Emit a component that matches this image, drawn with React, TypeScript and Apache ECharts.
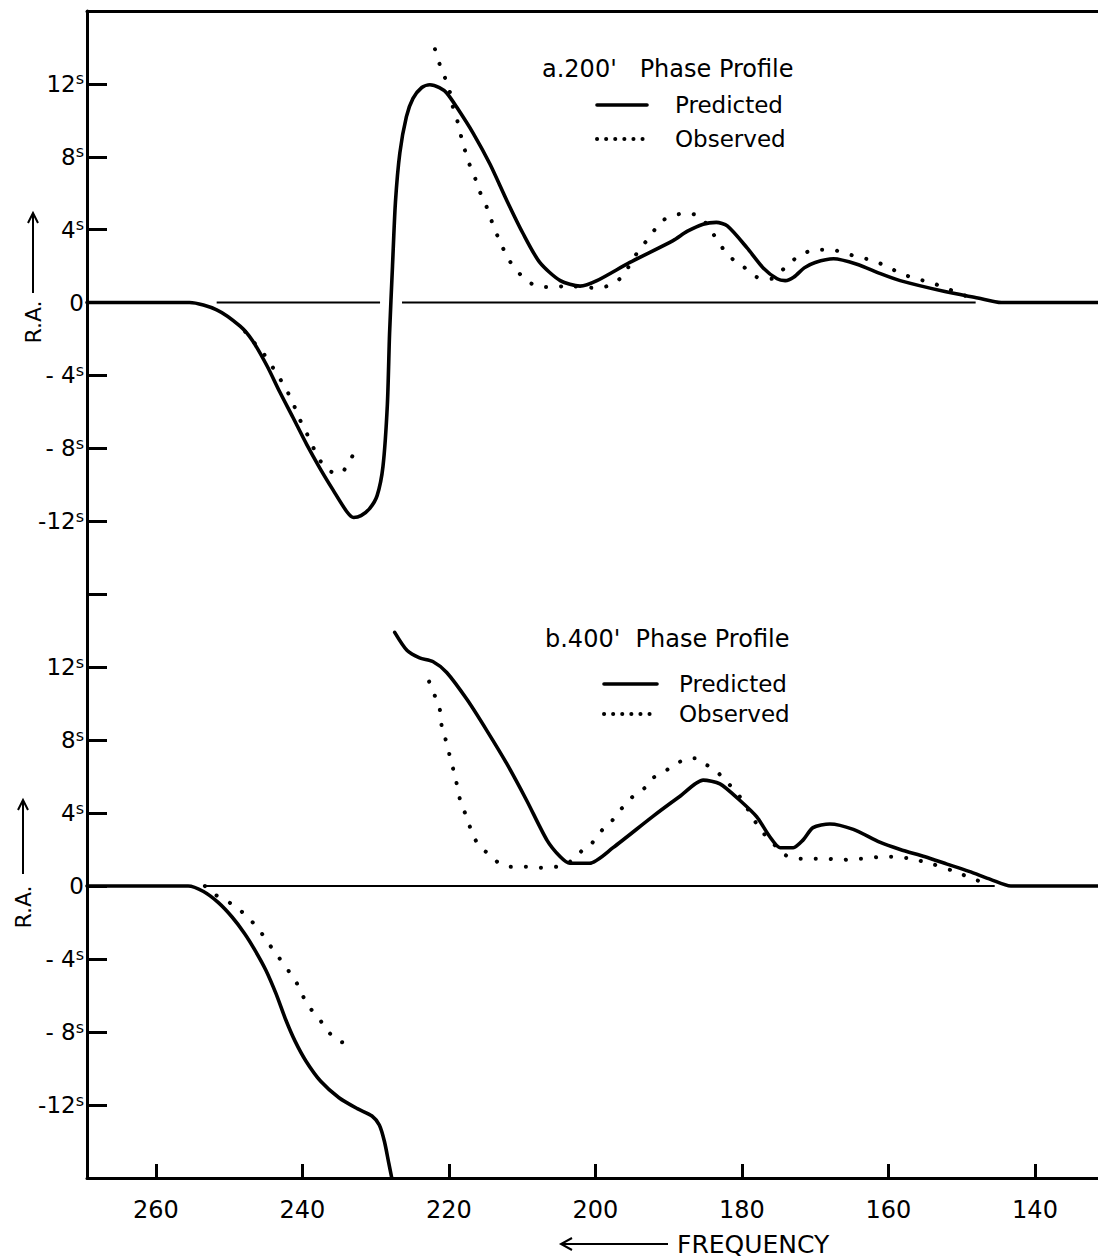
import React, { useEffect, useRef } from "react";
import * as echarts from "echarts";

const FONT = "DejaVu Sans";

const freqTicks = [260, 240, 220, 200, 180, 160, 140];
const freqMin = 131.4;
const freqMax = 269.4;
const raMin = -16;
const raMax = 16;

// a. 200' phase profile
const topPredicted: (number[] | null)[] = [
  [269.4, 0], [255.4, 0], [251.7, -0.4], [248.5, -1.3], [246.8, -2.1], [244.8, -3.5],
  [243.1, -4.9], [241.3, -6.3], [239.4, -7.8], [237.6, -9.1], [235.8, -10.3],
  [233.9, -11.5], [233.0, -11.8], [232.0, -11.7], [230.8, -11.3], [229.8, -10.6],
  [229.0, -9.0], [228.4, -5.6], [228.1, -1.7], [227.7, 2.0], [227.3, 5.5], [226.7, 8.2],
  [225.8, 10.2], [224.9, 11.2], [223.7, 11.8], [222.6, 11.95], [221.3, 11.8], [220.3, 11.5],
  [218.9, 10.7], [216.7, 9.3], [214.4, 7.6], [212.1, 5.6], [209.9, 3.8], [207.6, 2.2],
  [204.8, 1.2], [202.1, 0.9], [199.8, 1.2], [195.3, 2.2], [189.4, 3.4],
  [187.5, 3.9], [185.3, 4.3], [183.5, 4.4], [182.0, 4.2], [179.3, 3.0], [177.1, 1.9],
  [175.2, 1.3], [174.1, 1.2], [172.9, 1.4], [171.5, 1.9], [170.0, 2.2], [167.5, 2.4],
  [164.3, 2.1], [161.2, 1.6], [158.4, 1.2], [152.3, 0.6], [147.8, 0.25], [144.6, 0], [131.4, 0],
];
const topObserved: (number[] | null)[] = [
  [247.8, -1.6], [246.8, -2.1], [245.3, -2.8], [243.2, -4.1], [242.3, -4.7],
  [241.3, -5.5], [240.5, -6.3], [239.5, -7.1], [238.7, -7.8], [237.7, -8.6],
  [236.5, -9.2], [234.9, -9.4], [233.7, -8.8], [233.0, -8.3],
  null,
  [221.9, 13.9], [221.2, 13.0], [220.5, 12.3], [219.9, 11.6], [219.5, 10.8],
  [218.8, 9.9], [218.2, 8.9], [217.3, 7.7], [216.4, 6.8], [215.8, 6.1],
  [214.8, 5.2], [214.1, 4.4], [213.2, 3.5], [211.9, 2.4], [211.0, 1.9],
  [209.9, 1.4], [208.0, 0.9], [205.9, 0.85], [203.9, 0.9], [199.9, 0.8],
  [197.7, 1.0], [196.2, 1.5], [195.0, 2.3], [194.0, 2.9], [193.0, 3.4], [191.9, 4.0],
  [190.8, 4.5], [189.8, 4.7], [187.8, 4.9], [185.7, 4.7], [184.0, 3.8],
  [181.9, 2.6], [179.9, 2.0], [178.0, 1.4], [176.0, 1.3], [173.7, 2.1],
  [172.0, 2.6], [169.9, 2.9], [167.9, 2.9], [165.9, 2.7], [164.2, 2.5],
  [162.1, 2.3], [160.1, 1.95], [158.3, 1.6], [156.2, 1.3], [154.2, 1.1],
  [152.3, 0.8], [150.2, 0.5], [148.2, 0.1],
];
const topBaseline: (number[] | null)[] = [
  [251.7, 0], [229.4, 0], null, [226.4, 0], [148.1, 0],
];

// b. 400' phase profile
const bottomPredicted: (number[] | null)[] = [
  [269.4, 0], [255.6, 0], [253.5, -0.3], [251.5, -0.9], [249.6, -1.7],
  [247.9, -2.6], [246.5, -3.5], [245.0, -4.6], [243.6, -5.9], [242.3, -7.3],
  [241.0, -8.5], [239.5, -9.6], [237.5, -10.7], [235.0, -11.6], [232.5, -12.2],
  [230.5, -12.6], [229.5, -13.1], [228.8, -14.0], [228.2, -15.2], [227.8, -16],
  null,
  [227.4, 13.9], [225.7, 12.9], [224.0, 12.5], [222.2, 12.3], [220.3, 11.7],
  [217.5, 10.2], [214.8, 8.5], [212.1, 6.7], [209.4, 4.7], [206.6, 2.5],
  [204.8, 1.6], [203.5, 1.25], [200.8, 1.25], [197.6, 2.1], [192.2, 3.8],
  [188.5, 4.9], [185.3, 5.8], [183.0, 5.6], [180.3, 4.7], [178.0, 3.8],
  [176.2, 2.7], [174.8, 2.1], [173.0, 2.1], [171.7, 2.5], [170.3, 3.2],
  [168.0, 3.4], [164.8, 3.1], [161.2, 2.4], [158.4, 2.0], [155.0, 1.6],
  [152.0, 1.2], [149.0, 0.8], [146.0, 0.35], [143.3, 0], [131.4, 0],
];
const bottomObserved: (number[] | null)[] = [
  [253.3, 0], [252.2, -0.4], [250.9, -0.7], [249.6, -1.0], [248.3, -1.4],
  [247.0, -1.9], [245.9, -2.4], [244.7, -3.1], [243.6, -3.7], [241.8, -4.7],
  [240.8, -5.3], [240.2, -5.8], [239.3, -6.5], [238.1, -7.1], [237.1, -7.6],
  [236.2, -8.1], [235.1, -8.5], [233.7, -8.6],
  null,
  [222.7, 11.2], [221.9, 10.4], [221.2, 9.6], [221.0, 8.8], [220.5, 8.1],
  [220.1, 7.5], [219.7, 6.8], [219.2, 6.1], [218.4, 4.6], [217.7, 3.9],
  [216.9, 3.0], [215.9, 2.2], [214.7, 1.8], [212.8, 1.15], [211.3, 1.05],
  [209.2, 1.05], [207.2, 1.0], [204.8, 1.1], [202.8, 1.5], [201.7, 2.0],
  [200.8, 2.2], [199.8, 2.7], [199.0, 3.1], [198.0, 3.4], [197.1, 4.0],
  [196.0, 4.4], [194.9, 4.9], [193.2, 5.4], [192.2, 5.9], [190.9, 6.2],
  [189.7, 6.5], [188.5, 6.8], [187.5, 7.0], [186.4, 7.0], [185.3, 6.7],
  [184.1, 6.5], [183.0, 6.1], [180.3, 4.9], [178.6, 3.8], [177.5, 3.1],
  [175.9, 2.4], [174.1, 1.7], [172.1, 1.5], [170.3, 1.5], [168.4, 1.5],
  [166.6, 1.4], [164.8, 1.5], [162.9, 1.5], [161.2, 1.6], [159.4, 1.6],
  [157.0, 1.5], [154.0, 1.2], [151.0, 0.8], [148.5, 0.4], [146.0, 0.05],
];
const bottomBaseline: (number[] | null)[] = [[253.3, 0], [145.5, 0]];

const raLabel = (v: number) => {
  if (v === 0) return "{n|0}";
  if (Math.abs(v) >= 16) return "";
  const a = Math.abs(v);
  const sign = v < 0 ? (a < 10 ? "- " : "-") : "";
  return `{n|${sign}${a}}{s|s}`;
};

const BLACK = "#000";

const predictedStyle = { color: BLACK, width: 3.6, type: "solid" as const, cap: "round" as const };
const observedStyle = { color: BLACK, width: 4, type: [0.1, 15], cap: "round" as const };
const baselineStyle = { color: BLACK, width: 2.2, type: "solid" as const };

function makeYAxis(gridIndex: number) {
  return {
    type: "value",
    gridIndex,
    min: raMin,
    max: raMax,
    interval: 4,
    axisLine: { show: true, onZero: false, lineStyle: { color: BLACK, width: 3 } },
    axisTick: { show: true, inside: true, length: 20, lineStyle: { color: BLACK, width: 3 } },
    splitLine: { show: false },
    axisLabel: {
      margin: 3,
      formatter: raLabel,
      rich: {
        n: { fontSize: 23, fontFamily: FONT, color: BLACK, lineHeight: 26 },
        s: { fontSize: 16, fontFamily: FONT, color: BLACK, lineHeight: 16, verticalAlign: "top" },
      },
    },
  };
}

function makeLegend(left: number, top: number, itemWidth: number, itemGap: number, textGap: number) {
  return {
    orient: "vertical",
    left,
    top,
    padding: 0,
    itemWidth,
    itemHeight: 14,
    itemGap,
    selectedMode: false,
    itemStyle: { opacity: 0, color: "transparent", borderWidth: 0 },
    textStyle: {
      fontSize: 23,
      fontFamily: FONT,
      color: BLACK,
      lineHeight: 24,
      padding: [0, 0, 0, textGap],
    },
    data: [
      { name: "Predicted", lineStyle: { width: 3.6, color: BLACK } },
      { name: "Observed", lineStyle: { type: [0.1, 9], width: 4, color: BLACK, cap: "round" } },
    ],
  };
}

export default function App() {
  const ref = useRef<HTMLDivElement>(null);
  useEffect(() => {
    if (!ref.current) return;
    const chart = echarts.init(ref.current, null, { renderer: "svg" });
    const lineSeries = (name: string, idx: number, data: (number[] | null)[], lineStyle: any, smooth: number) => ({
      name,
      type: "line",
      xAxisIndex: idx,
      yAxisIndex: idx,
      data,
      symbol: "none",
      smooth,
      color: BLACK,
      itemStyle: { color: BLACK },
      lineStyle,
      connectNulls: false,
    });
    const option: any = {
      animation: false,
      backgroundColor: "#fff",
      color: [BLACK],
      textStyle: { fontFamily: FONT, color: BLACK },
      title: [
        {
          text: "a.200'   Phase Profile",
          left: 542,
          top: 57,
          padding: 0,
          textStyle: { fontSize: 24, fontWeight: "normal", fontFamily: FONT, color: BLACK },
        },
        {
          text: "b.400'  Phase Profile",
          left: 545,
          top: 627,
          padding: 0,
          textStyle: { fontSize: 24, fontWeight: "normal", fontFamily: FONT, color: BLACK },
        },
      ],
      legend: [makeLegend(595, 93, 50, 10, 23), makeLegend(602, 672, 53, 6, 17)],
      grid: [
        { left: 87, right: 0, top: 11, height: 583 },
        { left: 87, right: 0, top: 594, height: 584 },
      ],
      xAxis: [
        {
          type: "value",
          gridIndex: 0,
          position: "top",
          inverse: true,
          min: freqMin,
          max: freqMax,
          axisLine: { show: true, onZero: false, lineStyle: { color: BLACK, width: 3 } },
          axisTick: { show: false },
          axisLabel: { show: false },
          splitLine: { show: false },
        },
        {
          type: "value",
          gridIndex: 1,
          position: "bottom",
          inverse: true,
          min: freqMin,
          max: freqMax,
          axisLine: { show: true, onZero: false, lineStyle: { color: BLACK, width: 3 } },
          axisTick: {
            show: true,
            inside: true,
            length: 14,
            customValues: freqTicks,
            lineStyle: { color: BLACK, width: 3 },
          },
          axisLabel: {
            show: true,
            margin: 20,
            fontSize: 24,
            fontFamily: FONT,
            color: BLACK,
            customValues: freqTicks,
          },
          splitLine: { show: false },
        },
      ],
      yAxis: [makeYAxis(0), makeYAxis(1)],
      series: [
        lineSeries("Baseline200", 0, topBaseline, baselineStyle, 0),
        lineSeries("Predicted", 0, topPredicted, predictedStyle, 0.25),
        lineSeries("Observed", 0, topObserved, observedStyle, 0.3),
        lineSeries("Baseline400", 1, bottomBaseline, baselineStyle, 0),
        lineSeries("Predicted", 1, bottomPredicted, predictedStyle, 0.25),
        lineSeries("Observed", 1, bottomObserved, observedStyle, 0.3),
      ],
      graphic: [
        {
          type: "text",
          x: 33,
          y: 322,
          rotation: Math.PI / 2,
          style: { text: "R.A.", x: 0, y: 0, align: "center", verticalAlign: "middle", font: `22px "${FONT}"`, fill: BLACK },
        },
        { type: "line", shape: { x1: 33, y1: 293, x2: 33, y2: 214 }, style: { stroke: BLACK, lineWidth: 2 } },
        { type: "polyline", shape: { points: [[28, 223], [33, 213], [38, 223]] }, style: { stroke: BLACK, lineWidth: 2, fill: null } },
        {
          type: "text",
          x: 23,
          y: 907,
          rotation: Math.PI / 2,
          style: { text: "R.A.", x: 0, y: 0, align: "center", verticalAlign: "middle", font: `22px "${FONT}"`, fill: BLACK },
        },
        { type: "line", shape: { x1: 23, y1: 874, x2: 23, y2: 801 }, style: { stroke: BLACK, lineWidth: 2 } },
        { type: "polyline", shape: { points: [[18, 810], [23, 800], [28, 810]] }, style: { stroke: BLACK, lineWidth: 2, fill: null } },
        {
          type: "text",
          x: 677,
          y: 1244,
          style: { text: "FREQUENCY", x: 0, y: 0, align: "left", verticalAlign: "middle", font: `25px "${FONT}"`, fill: BLACK },
        },
        { type: "line", shape: { x1: 562, y1: 1244, x2: 668, y2: 1244 }, style: { stroke: BLACK, lineWidth: 2 } },
        { type: "polyline", shape: { points: [[572, 1238], [561, 1244], [572, 1250]] }, style: { stroke: BLACK, lineWidth: 2, fill: null } },
      ],
    };
    chart.setOption(option);
    return () => chart.dispose();
  }, []);
  return (
    <div
      ref={ref}
      style={{ position: "absolute", left: 0, top: 0, width: 1098, height: 1259, background: "#fff" }}
    />
  );
}
